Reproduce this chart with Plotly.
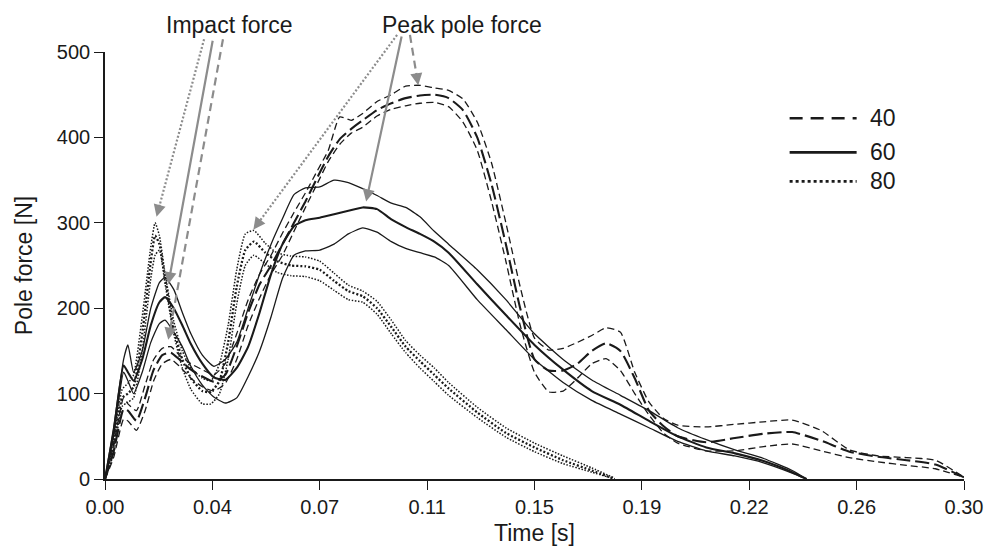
import plotly.graph_objects as go

# ===== data (time [s], pole force [N]) =====
# 40 : dashed (mean thick, +/- SD thin)
t40 = [0.000, 0.003, 0.0065, 0.008, 0.011, 0.014, 0.017, 0.020, 0.023, 0.026,
       0.030, 0.034, 0.038, 0.042, 0.046, 0.050, 0.054, 0.058, 0.062, 0.066,
       0.070, 0.074, 0.078, 0.082, 0.086, 0.090, 0.095, 0.100, 0.105, 0.110,
       0.115, 0.120, 0.125, 0.130, 0.135, 0.140, 0.145, 0.150, 0.155, 0.160,
       0.165, 0.170, 0.175, 0.180, 0.185, 0.190, 0.195, 0.200, 0.210, 0.220,
       0.230, 0.240, 0.250, 0.260, 0.270, 0.280, 0.290, 0.300]
f40_hi = [0, 40, 95, 88, 80, 110, 140, 153, 155, 145,
          135, 128, 122, 135, 170, 210, 240, 262, 288, 312,
          335, 360, 385, 424, 420, 428, 442, 450, 460, 461,
          458, 455, 445, 418, 370, 300, 225, 165, 151, 153,
          160, 168, 177, 172, 125, 90, 71, 63, 61, 64,
          67, 69, 57, 34, 27, 25, 22, 2]
f40_mean = [0, 32, 82, 80, 68, 95, 128, 145, 148, 140,
            128, 120, 114, 122, 155, 195, 228, 250, 275, 300,
            325, 352, 378, 398, 410, 420, 432, 440, 446, 449,
            450, 446, 432, 400, 345, 275, 200, 140, 127, 127,
            135, 150, 159, 150, 118, 80, 62, 50, 43, 48,
            53, 55, 45, 32, 26, 22, 17, 2]
f40_lo = [0, 25, 70, 68, 57, 80, 115, 135, 140, 132,
          118, 108, 103, 112, 140, 180, 212, 240, 262, 290,
          318, 345, 372, 392, 405, 412, 425, 433, 437, 440,
          441, 436, 418, 385, 325, 255, 180, 125, 102, 103,
          118, 135, 141, 127, 100, 75, 54, 42, 33, 33,
          38, 41, 33, 25, 20, 16, 12, 2]

# 60 : solid
t60 = [0.000, 0.003, 0.0065, 0.008, 0.010, 0.013, 0.016, 0.019, 0.021, 0.024,
       0.027, 0.030, 0.034, 0.038, 0.042, 0.046, 0.050, 0.054, 0.058, 0.062,
       0.066, 0.070, 0.075, 0.080, 0.085, 0.090, 0.095, 0.100, 0.105, 0.110,
       0.115, 0.120, 0.130, 0.140, 0.150, 0.160, 0.170, 0.180, 0.190, 0.200,
       0.210, 0.220, 0.230, 0.240, 0.245]
f60_hi = [0, 60, 140, 157, 125, 150, 200, 230, 236, 222,
          195, 170, 145, 132, 140, 160, 200, 240, 275, 305,
          333, 341, 342, 350, 347, 340, 332, 323, 318, 307,
          290, 275, 245, 210, 170, 140, 116, 98, 80, 60,
          46, 34, 24, 10, 0]
f60_mean = [0, 55, 133, 125, 115, 140, 180, 207, 213, 200,
            180, 158, 135, 119, 116, 130, 155, 195, 240, 275,
            296, 303, 306, 310, 314, 318, 316, 304, 295, 287,
            278, 265, 228, 192, 157, 128, 103, 87, 68, 50,
            37, 30, 21, 8, 0]
f60_lo = [0, 50, 125, 115, 100, 125, 160, 182, 186, 172,
          155, 132, 110, 96, 89, 95, 120, 150, 190, 235,
          262, 267, 268, 275, 287, 294, 289, 278, 270, 265,
          260, 250, 210, 175, 140, 113, 92, 76, 60, 44,
          33, 27, 19, 7, 0]

# 80 : dotted
t80 = [0.000, 0.003, 0.006, 0.008, 0.010, 0.013, 0.016, 0.0175, 0.019, 0.021,
       0.024, 0.027, 0.030, 0.034, 0.037, 0.040, 0.043, 0.046, 0.049, 0.052,
       0.056, 0.060, 0.065, 0.070, 0.075, 0.080, 0.085, 0.090, 0.095, 0.100,
       0.105, 0.110, 0.115, 0.120, 0.130, 0.140, 0.150, 0.160, 0.170, 0.178]
f80_hi = [0, 45, 105, 112, 122, 190, 272, 300, 285, 240,
          185, 150, 130, 118, 115, 135, 180, 245, 287, 291,
          276, 265, 261, 260, 255, 241, 227, 220, 208, 186,
          162, 145, 130, 113, 84, 60, 42, 27, 13, 1]
f80_mean = [0, 38, 95, 100, 108, 170, 255, 285, 275, 235,
            175, 140, 118, 103, 102, 115, 160, 225, 268, 278,
            265, 255, 250, 249, 245, 232, 220, 214, 200, 178,
            155, 138, 122, 106, 78, 54, 37, 22, 10, 0]
f80_lo = [0, 30, 85, 90, 95, 150, 235, 262, 268, 228,
          170, 130, 105, 88, 88, 100, 140, 205, 250, 262,
          252, 242, 238, 237, 232, 221, 210, 207, 193, 170,
          148, 130, 114, 98, 72, 49, 32, 18, 8, 0]

tick_vals = [0.0, 0.0375, 0.075, 0.1125, 0.15, 0.1875, 0.225, 0.2625, 0.30]
tick_text = ["0.00", "0.04", "0.07", "0.11", "0.15", "0.19", "0.22", "0.26", "0.30"]
legend_names = ["40", "60", "80"]

# arrows: (tail t, tail N, head t, head N, style)
impact_arrows = [
    (0.0346, 515, 0.0180, 307, "dot"),
    (0.0377, 515, 0.0221, 228, "solid"),
    (0.0412, 515, 0.0221, 163, "dash"),
]
peak_arrows = [
    (0.1020, 520, 0.0518, 292, "dot"),
    (0.1037, 520, 0.0912, 325, "solid"),
    (0.1065, 520, 0.1094, 461, "dash"),
]

# ===== layout constants =====
# the page body has an 8px margin, so the figure is drawn 8px in from the top-left
W, H = 989, 538
ML, MR, MT, MB = 97, 33, 44, 67
X_MAX, Y_MAX = 0.30, 500
FONT = "Liberation Sans, Arial, Helvetica, sans-serif"
INK = "#1a1a1a"
GREY = "#8c8c8c"

thin = 1.3
thick = 2.1
styles = {
    "40": (dict(dash="7px,4px", width=thin), dict(dash="14px,5px", width=thick)),
    "60": (dict(dash="solid", width=thin), dict(dash="solid", width=thick)),
    "80": (dict(dash="1.5px,1.6px", width=thin + 0.2), dict(dash="2px,2px", width=thick + 0.2)),
}

groups = [
    ("40", t40, f40_hi, f40_mean, f40_lo),
    ("60", t60, f60_hi, f60_mean, f60_lo),
    ("80", t80, f80_hi, f80_mean, f80_lo),
]

fig = go.Figure()

for name, t, hi, mean, lo in groups:
    sd_style, mean_style = styles[name]
    for ys, st in [(hi, sd_style), (lo, sd_style), (mean, mean_style)]:
        fig.add_trace(go.Scatter(
            x=t, y=ys, mode="lines", name=name, showlegend=False,
            line=dict(color=INK, shape="spline", smoothing=0.5, **st),
            hoverinfo="skip",
        ))

# ===== annotation arrows =====
plot_w = W - ML - MR
plot_h = H - MT - MB
px_per_s = plot_w / X_MAX
px_per_n = plot_h / Y_MAX


def add_arrow(t0, f0, t1, f1, dash):
    dx = (t0 - t1) * px_per_s
    dy = -(f0 - f1) * px_per_n
    L = (dx ** 2 + dy ** 2) ** 0.5
    if dash == "solid":
        ax, ay = dx, dy
    else:
        ax, ay = dx / L * 14, dy / L * 14
        # shaft drawn as a shape so it can be dashed / dotted
        ft = 12 / L
        fig.add_shape(
            type="line", xref="x", yref="paper",
            x0=t0, y0=f0 / Y_MAX,
            x1=t1 + (t0 - t1) * ft, y1=(f1 + (f0 - f1) * ft) / Y_MAX,
            line=dict(color=GREY, width=2.2,
                      dash="2px,2px" if dash == "dot" else "8px,5px"),
        )
    fig.add_annotation(
        x=t1, y=f1, xref="x", yref="y", ax=ax, ay=ay,
        text="", showarrow=True, arrowhead=2, arrowsize=1.1,
        arrowwidth=2.2, arrowcolor=GREY, standoff=0,
    )


for a in impact_arrows + peak_arrows:
    add_arrow(*a)

for label, tx in [("Impact force", 0.0436), ("Peak pole force", 0.1246)]:
    fig.add_annotation(x=tx, y=1.064, xref="x", yref="paper", text=label,
                       xanchor="center", yanchor="middle", showarrow=False,
                       font=dict(size=23, color=INK, family=FONT))

# ===== legend (drawn by hand to get the long line samples) =====
leg_y = [0.845, 0.765, 0.697]
leg_dash = ["13px,8px", "solid", "3px,3px"]
for name, yy, dsh in zip(legend_names, leg_y, leg_dash):
    fig.add_shape(type="line", xref="paper", yref="paper",
                  x0=0.797, x1=0.875, y0=yy, y1=yy,
                  line=dict(color=INK, width=2.6, dash=dsh))
    fig.add_annotation(x=0.888, y=yy, xref="paper", yref="paper", text=name,
                       xanchor="left", yanchor="middle", showarrow=False,
                       font=dict(size=23, color=INK, family=FONT))

fig.update_xaxes(
    range=[0, X_MAX], tickvals=tick_vals, ticktext=tick_text,
    showline=True, linecolor=INK, linewidth=1.6, ticks="outside", ticklen=9,
    tickwidth=1.4, tickcolor=INK, showgrid=False, zeroline=False,
    tickfont=dict(size=20, color=INK, family=FONT), automargin=False,
    title=dict(text="Time [s]", font=dict(size=23, color=INK, family=FONT), standoff=9),
)
fig.update_yaxes(
    range=[0, Y_MAX], tickvals=[0, 100, 200, 300, 400, 500],
    showline=True, linecolor=INK, linewidth=1.6, ticks="outside", ticklen=9,
    tickwidth=1.4, tickcolor=INK, showgrid=False, zeroline=False,
    tickfont=dict(size=20, color=INK, family=FONT), automargin=False,
    title=dict(text="Pole force [N]", font=dict(size=23, color=INK, family=FONT), standoff=18),
)

fig.update_layout(
    width=W, height=H,
    margin=dict(l=ML, r=MR, t=MT, b=MB),
    plot_bgcolor="white", paper_bgcolor="white",
    showlegend=False,
    font=dict(family=FONT, color=INK),
)

fig.write_html("out.html")
